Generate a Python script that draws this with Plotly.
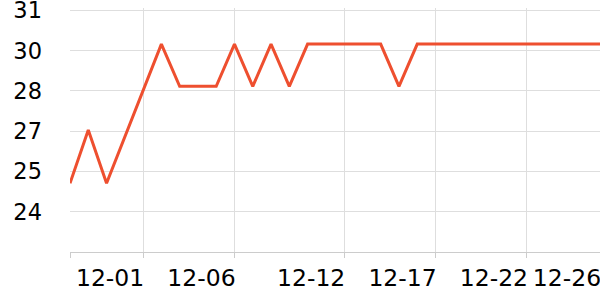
import plotly.graph_objects as go

dates = ["11-27", "11-28", "11-29", "11-30", "12-01", "12-02", "12-03", "12-04", "12-05", "12-06",
         "12-07", "12-08", "12-09", "12-10", "12-11", "12-12", "12-13", "12-14", "12-15", "12-16",
         "12-17", "12-18", "12-19", "12-20", "12-21", "12-22", "12-23", "12-24", "12-25", "12-26"]
values = [24.99, 26.84, 24.99, 26.6, 28.2, 29.83, 28.36, 28.36, 28.36, 29.83,
          28.36, 29.83, 28.36, 29.83, 29.83, 29.83, 29.83, 29.83, 28.36, 29.83,
          29.83, 29.83, 29.83, 29.83, 29.83, 29.83, 29.83, 29.83, 29.83, 29.83]

x_ticks = ["11-27", "12-01", "12-06", "12-12", "12-17", "12-22", "12-26"]
x_ticktext = ["", "12-01", "12-06", "12-12", "12-17", "12-22", "12-26"]
y_ticks = [24.0, 25.4, 26.8, 28.2, 29.6, 31.0]
y_ticktext = ["24", "25", "27", "28", "30", "31"]

fig = go.Figure()
fig.add_trace(go.Scatter(
    x=dates, y=values, mode="lines",
    line=dict(color="#ee4f2f", width=3),
    hoverinfo="skip", showlegend=False,
))

fig.update_layout(
    width=600, height=300,
    margin=dict(l=70, r=0, t=8, b=48),
    paper_bgcolor="white", plot_bgcolor="white",
    font=dict(family="DejaVu Sans", size=23.5, color="#000"),
)
fig.update_xaxes(
    type="category", range=[0, len(dates) - 1],
    tickmode="array", tickvals=x_ticks, ticktext=x_ticktext,
    showgrid=True, gridcolor="#dedede", gridwidth=1,
    showline=True, linecolor="#cccccc", linewidth=1,
    ticks="outside", ticklen=5, tickcolor="#cccccc",
    ticklabelshift=-33, zeroline=False, ticklabeloverflow="allow",
    automargin=False,
)
fig.update_yaxes(
    range=[22.6, 31.085],
    tickmode="array", tickvals=y_ticks, ticktext=y_ticktext,
    tickfont=dict(size=22.5),
    showgrid=True, gridcolor="#dedede", gridwidth=1,
    showline=False, ticks="", ticklabelstandoff=27, zeroline=False,
    ticklabeloverflow="allow", automargin=False,
)

fig.write_html("out.html")
